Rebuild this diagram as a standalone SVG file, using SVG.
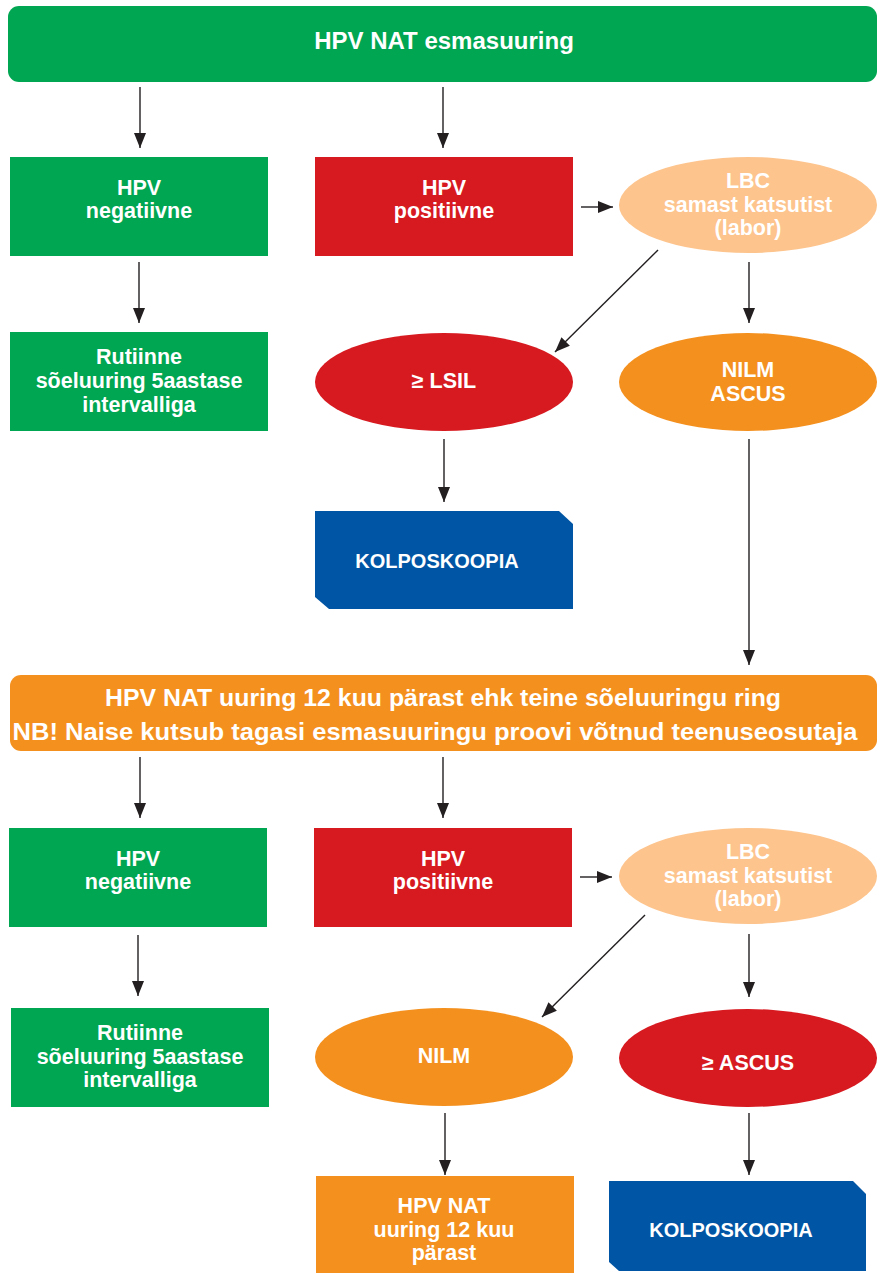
<svg xmlns="http://www.w3.org/2000/svg" width="883" height="1273" viewBox="0 0 883 1273">
<style>
text{font-family:"Liberation Sans",Arial,sans-serif;font-weight:bold;fill:#fff;text-anchor:middle}
.t22{font-size:21.5px}
.t21{font-size:20px}
.ban{font-size:24px}
.green{fill:#00a651}
.red{fill:#d71920}
.orange{fill:#f4901e}
.peach{fill:#fdc48d}
.blue{fill:#0055a4}
.conn line{stroke:#231f20;stroke-width:1.4;fill:none;marker-end:url(#ah)}
</style>
<defs>
<marker id="ah" markerUnits="userSpaceOnUse" markerWidth="16" markerHeight="12" refX="15" refY="6" orient="auto">
<path d="M0,0 L15,6 L0,12 z" fill="#231f20"/>
</marker>
</defs>
<rect width="883" height="1273" fill="#fff"/>

<g id="n-top">
<rect class="green" x="8" y="6" width="869" height="76" rx="11"/>
<text class="ban" x="444" y="49">HPV NAT esmasuuring</text>
</g>

<g id="n-neg1">
<rect class="green" x="10" y="157" width="258" height="99"/>
<text class="t22" x="139" y="195">HPV</text>
<text class="t22" x="139" y="218">negatiivne</text>
</g>
<g id="n-rut1">
<rect class="green" x="10" y="332" width="258" height="99"/>
<text class="t22" x="139" y="364">Rutiinne</text>
<text class="t22" x="139" y="388">sõeluuring 5aastase</text>
<text class="t22" x="139" y="412">intervalliga</text>
</g>
<g id="n-pos1">
<rect class="red" x="315" y="157" width="258" height="99"/>
<text class="t22" x="444" y="195">HPV</text>
<text class="t22" x="444" y="218">positiivne</text>
</g>
<g id="n-lbc1">
<ellipse class="peach" cx="748" cy="205" rx="129" ry="48"/>
<text class="t22" x="748" y="188">LBC</text>
<text class="t22" x="748" y="212">samast katsutist</text>
<text class="t22" x="748" y="235">(labor)</text>
</g>
<g id="n-lsil">
<ellipse class="red" cx="444" cy="382" rx="129" ry="49"/>
<text class="t22" x="444" y="388">≥ LSIL</text>
</g>
<g id="n-nilmascus">
<ellipse class="orange" cx="748" cy="382" rx="129" ry="49"/>
<text class="t22" x="748" y="377">NILM</text>
<text class="t22" x="748" y="401">ASCUS</text>
</g>
<g id="n-kolpo1">
<polygon class="blue" points="315,511 559,511 573,524 573,609 329,609 315,597"/>
<text class="t21" x="437" y="568">KOLPOSKOOPIA</text>
</g>

<g id="n-mid">
<rect class="orange" x="10" y="675" width="867" height="76" rx="11"/>
<text class="ban" x="443" y="706" textLength="676" lengthAdjust="spacingAndGlyphs">HPV NAT uuring 12 kuu pärast ehk teine sõeluuringu ring</text>
<text class="ban" x="435" y="740" textLength="845" lengthAdjust="spacingAndGlyphs">NB! Naise kutsub tagasi esmasuuringu proovi võtnud teenuseosutaja</text>
</g>

<g id="n-neg2">
<rect class="green" x="9" y="828" width="258" height="99"/>
<text class="t22" x="138" y="866">HPV</text>
<text class="t22" x="138" y="889">negatiivne</text>
</g>
<g id="n-rut2">
<rect class="green" x="11" y="1008" width="258" height="99"/>
<text class="t22" x="140" y="1040">Rutiinne</text>
<text class="t22" x="140" y="1064">sõeluuring 5aastase</text>
<text class="t22" x="140" y="1087">intervalliga</text>
</g>
<g id="n-pos2">
<rect class="red" x="314" y="828" width="258" height="99"/>
<text class="t22" x="443" y="866">HPV</text>
<text class="t22" x="443" y="889">positiivne</text>
</g>
<g id="n-lbc2">
<ellipse class="peach" cx="748" cy="876" rx="129" ry="48"/>
<text class="t22" x="748" y="859">LBC</text>
<text class="t22" x="748" y="883">samast katsutist</text>
<text class="t22" x="748" y="906">(labor)</text>
</g>
<g id="n-nilm">
<ellipse class="orange" cx="444" cy="1057" rx="129" ry="49"/>
<text class="t22" x="444" y="1063">NILM</text>
</g>
<g id="n-ascus">
<ellipse class="red" cx="748" cy="1058" rx="129" ry="49"/>
<text class="t22" x="748" y="1070">≥ ASCUS</text>
</g>
<g id="n-hpv12">
<rect class="orange" x="316" y="1176" width="258" height="97"/>
<text class="t22" x="444" y="1213">HPV NAT</text>
<text class="t22" x="444" y="1237">uuring 12 kuu</text>
<text class="t22" x="444" y="1260">pärast</text>
</g>
<g id="n-kolpo2">
<polygon class="blue" points="609,1181 853,1181 866,1194 866,1271 619,1271 609,1262"/>
<text class="t21" x="731" y="1237">KOLPOSKOOPIA</text>
</g>

<g id="connectors" class="conn">
<line x1="140" y1="87" x2="140" y2="148"/>
<line x1="443" y1="87" x2="443" y2="148"/>
<line x1="139" y1="262" x2="139" y2="323"/>
<line x1="581" y1="207" x2="613" y2="207"/>
<line x1="658" y1="250" x2="555" y2="352"/>
<line x1="749" y1="262" x2="749" y2="323"/>
<line x1="444" y1="439" x2="444" y2="502"/>
<line x1="749" y1="439" x2="749" y2="665"/>
<line x1="140" y1="757" x2="140" y2="818"/>
<line x1="443" y1="757" x2="443" y2="818"/>
<line x1="138" y1="935" x2="138" y2="996"/>
<line x1="580" y1="877" x2="612" y2="877"/>
<line x1="645" y1="915" x2="542" y2="1017"/>
<line x1="749" y1="934" x2="749" y2="997"/>
<line x1="445" y1="1113" x2="445" y2="1175"/>
<line x1="749" y1="1113" x2="749" y2="1175"/>
</g>
</svg>
